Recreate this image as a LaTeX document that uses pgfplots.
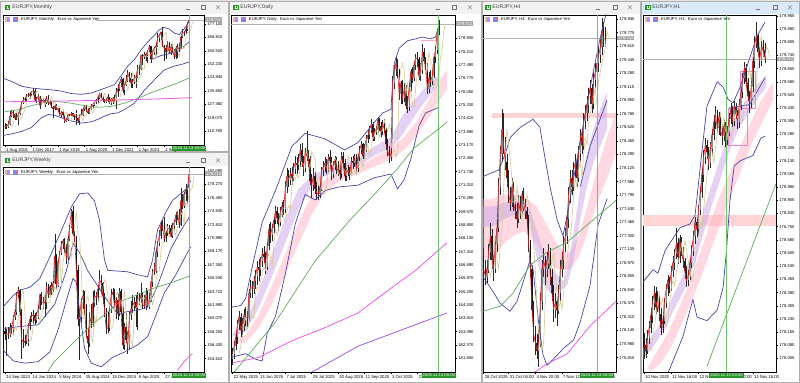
\documentclass[border=0pt]{standalone}
\usepackage{fontspec}
\setmainfont{Liberation Sans}
\usepackage{pgfplots}
\usepackage{pgfplotstable}
\pgfplotsset{compat=1.18}
\definecolor{bb}{RGB}{70,70,165}
\definecolor{ma1}{RGB}{225,30,30}
\definecolor{ma2}{RGB}{214,200,150}
\definecolor{gma}{RGB}{90,175,90}
\definecolor{mag}{RGB}{235,90,235}
\definecolor{pur}{RGB}{165,90,225}
\definecolor{lav}{RGB}{205,165,235}
\definecolor{pnk}{RGB}{255,170,190}
\definecolor{zone}{RGB}{255,212,212}
\definecolor{vline}{RGB}{110,195,110}
\definecolor{gbox}{RGB}{40,150,40}
\definecolor{bull}{RGB}{140,140,140}
\definecolor{bear}{RGB}{20,20,20}
\definecolor{tbar}{RGB}{242,242,242}
\definecolor{tbact}{RGB}{218,234,250}
\definecolor{wframe}{RGB}{175,175,175}
\definecolor{bg}{RGB}{228,228,228}
\definecolor{pbox}{RGB}{240,130,200}
\newcommand{\fs}{\fontsize{2.1}{2.5}\selectfont}
\newcommand{\ft}{\fontsize{2.6}{3}\selectfont}
\pgfplotsset{mt/.style={scale only axis, anchor=north west, clip mode=individual,
  axis line style={black, line width=0.3pt},
  xtick pos=left, ytick pos=right, yticklabel pos=right,
  tick align=outside, major tick length=1.1pt,
  tick style={black, line width=0.22pt},
  ticklabel style={font=\fs, inner sep=0.4pt},
  yticklabel style={anchor=west},
  xticklabel style={anchor=north west},
  scaled ticks=false}}
\newcommand{\candles}[1]{%
 \addplot[draw=none, forget plot, error bars/.cd, y dir=both, y explicit, error mark=none,
   error bar style={draw=black!85, line width=0.22pt, solid}]
   table[x=i, y expr={(\thisrow{h}+\thisrow{l})/2}, y error expr={(\thisrow{h}-\thisrow{l})/2}] {#1};
 \addplot[draw=none, forget plot, restrict expr to domain={\thisrow{c}-\thisrow{o}}{0:1000},
   error bars/.cd, y dir=both, y explicit, error mark=none,
   error bar style={draw=bull, line width=0.6pt, solid}]
   table[x=i, y expr={(\thisrow{o}+\thisrow{c})/2}, y error expr={(\thisrow{c}-\thisrow{o})/2}] {#1};
 \addplot[draw=none, forget plot, restrict expr to domain={\thisrow{o}-\thisrow{c}}{0.00001:1000},
   error bars/.cd, y dir=both, y explicit, error mark=none,
   error bar style={draw=bear, line width=0.6pt, solid}]
   table[x=i, y expr={(\thisrow{o}+\thisrow{c})/2}, y error expr={(\thisrow{o}-\thisrow{c})/2}] {#1};
}
\newcommand{\hdr}[3]{%
 \fill[red!35] (#1,#2+1.1pt) rectangle (#1+1.2pt,#2-1.1pt);
 \fill[blue!40] (#1+1.2pt,#2+1.1pt) rectangle (#1+2.4pt,#2-1.1pt);
 \fill[blue!50] (#1+4.2pt,#2+1.1pt) rectangle (#1+6.6pt,#2-1.1pt);
 \fill[red!60] (#1+4.8pt,#2+0.5pt) rectangle (#1+6pt,#2-0.5pt);
 \node[anchor=west, inner sep=0pt, font=\fs] at (#1+7.8pt,#2) {#3};}
\newcommand{\ttl}[4]{% iconx y textx text
 \draw[gbox, line width=0.3pt] (#1,#2+1.2pt) rectangle (#1+2.4pt,#2-1.2pt);
 \draw[gbox, line width=0.3pt] (#1+0.8pt,#2+0.6pt) -- (#1+0.8pt,#2-0.6pt) (#1+1.6pt,#2+0.8pt) -- (#1+1.6pt,#2-0.4pt);
 \node[anchor=west, inner sep=0pt, font=\ft, text=black!75] at (#3,#2) {#4};}
\newcommand{\btn}[4]{%
 \draw[black!55, line width=0.25pt] (#1-1pt,#4-1pt) -- (#1+1pt,#4-1pt);
 \draw[black!55, line width=0.25pt] (#2-1pt,#4+1pt) rectangle (#2+1pt,#4-1pt);
 \draw[black!55, line width=0.25pt] (#3-1pt,#4+1pt) -- (#3+1pt,#4-1pt) (#3-1pt,#4-1pt) -- (#3+1pt,#4+1pt);}

\pgfplotstableread{
i o h l c
0 113.2 115.6 111.8 114.0
1 114.0 115.3 112.0 113.5
2 113.5 117.0 112.9 115.2
3 115.2 123.0 114.8 120.0
4 120.0 124.1 119.5 123.0
5 123.0 124.1 118.9 121.5
6 121.5 122.0 117.8 119.0
7 119.0 122.0 117.9 118.6
8 118.6 121.9 114.8 121.4
9 121.4 125.8 120.9 124.1
10 124.1 128.9 124.0 128.3
11 128.3 131.7 127.6 130.0
12 130.0 131.8 128.6 130.8
13 130.8 133.5 129.5 132.7
14 132.7 134.4 131.9 132.5
15 132.5 134.5 130.6 133.9
16 133.9 135.6 132.6 135.3
17 135.3 137.5 133.1 135.6
18 135.6 137.4 129.6 130.0
19 130.0 131.7 128.1 130.8
20 130.8 133.5 130.2 132.0
21 132.0 132.2 124.6 126.7
22 126.7 130.4 126.6 129.2
23 129.2 131.0 128.5 130.2
24 130.2 130.6 125.8 128.8
25 128.8 132.2 127.8 131.9
26 131.9 133.1 126.6 127.8
27 127.8 129.9 127.5 128.4
28 128.4 129.2 125.2 125.8
29 125.8 126.4 118.7 124.6
30 124.6 127.5 124.1 126.3
31 126.3 127.5 123.7 124.3
32 124.3 125.2 122.7 124.6
33 124.6 125.1 120.1 120.4
34 120.4 123.2 119.1 122.6
35 122.6 122.9 120.0 120.9
36 120.9 121.0 115.9 116.8
37 116.8 118.6 116.3 117.8
38 117.8 121.5 117.1 121.0
39 121.0 121.4 119.9 120.6
40 120.6 122.6 120.1 121.8
41 121.8 122.1 119.4 120.1
42 120.1 121.0 117.4 120.9
43 120.9 124.1 114.4 118.7
44 118.7 119.0 116.1 117.1
45 117.1 121.1 114.4 120.8
46 120.8 124.4 120.2 120.9
47 120.9 125.0 120.1 124.5
48 124.5 127.1 123.0 126.3
49 126.3 126.7 122.4 123.8
50 123.8 125.1 121.6 122.0
51 122.0 125.1 121.1 124.3
52 124.3 127.5 123.6 126.2
53 126.2 127.1 125.1 127.1
54 127.1 128.9 126.1 128.8
55 128.8 130.5 127.6 129.8
56 129.8 132.5 127.9 131.4
57 131.4 134.3 130.6 134.1
58 134.1 134.3 131.0 131.5
59 131.5 132.2 128.6 130.2
60 130.2 130.9 127.9 129.4
61 129.4 131.0 128.3 129.6
62 129.6 133.5 128.5 131.9
63 131.9 132.0 127.4 127.9
64 127.9 131.0 127.2 130.9
65 130.9 131.6 127.4 129.2
66 129.2 133.2 128.5 129.5
67 129.5 137.5 124.4 135.2
68 135.2 140.0 131.9 136.8
69 136.8 141.0 135.6 140.6
70 140.6 144.3 138.1 142.9
71 142.9 143.6 134.6 136.2
72 136.2 139.7 133.4 139.3
73 139.3 145.6 138.5 141.8
74 141.8 148.4 141.0 147.0
75 147.0 147.3 140.9 143.6
76 143.6 146.7 137.4 140.4
77 140.4 142.9 137.4 141.2
78 141.2 145.6 139.8 144.0
79 144.0 145.7 137.4 144.5
80 144.5 151.6 143.7 150.1
81 150.1 151.6 145.6 149.5
82 149.5 158.0 148.3 157.8
83 157.8 158.7 151.4 156.7
84 156.7 159.8 155.2 158.2
85 158.2 159.2 154.0 158.1
86 158.1 160.8 153.2 160.1
87 160.1 164.3 159.7 163.2
88 163.2 163.6 153.2 155.7
89 155.7 161.0 155.1 159.7
90 159.7 163.7 158.0 162.2
91 162.2 165.3 158.1 163.4
92 163.4 171.6 162.8 168.5
93 168.5 170.9 166.2 170.3
94 170.3 172.4 167.4 172.2
95 172.2 175.4 163.0 163.9
96 163.9 164.2 154.4 162.2
97 162.2 163.8 155.2 159.7
98 159.7 166.7 159.6 165.3
99 165.3 166.2 158.3 158.8
100 158.8 164.9 158.0 162.8
101 162.8 164.9 159.6 161.4
102 161.4 161.7 155.6 156.7
103 156.7 163.7 155.6 162.0
104 162.0 164.9 156.3 162.7
105 162.7 165.2 159.9 161.6
106 161.6 169.7 161.4 169.1
107 169.1 173.9 168.5 171.9
108 171.9 173.0 169.8 171.9
109 171.9 175.0 171.2 173.7
110 173.7 178.1 172.6 177.6
111 177.6 179.9 176.1 179.7
}\tmon

\pgfplotstableread{
i o h l c
0 158.4 158.9 157.2 157.9
1 157.9 158.7 155.0 158.0
2 158.0 158.9 157.3 157.9
3 157.9 159.5 157.6 158.8
4 158.8 159.2 157.9 158.5
5 158.5 160.6 157.8 160.2
6 160.2 161.4 159.8 160.9
7 160.9 163.7 160.6 163.3
8 163.3 164.3 162.9 163.9
9 163.9 164.0 160.4 160.9
10 160.9 161.3 154.5 157.3
11 157.3 158.6 156.0 156.8
12 156.8 157.8 156.3 157.0
13 157.0 157.9 156.6 157.3
14 157.3 159.4 156.3 159.0
15 159.0 160.4 158.5 160.0
16 160.0 161.0 159.6 160.3
17 160.3 161.2 159.1 160.6
18 160.6 160.8 159.2 159.8
19 159.8 161.0 159.5 160.6
20 160.6 161.9 160.0 161.4
21 161.4 163.4 161.2 163.3
22 163.3 163.6 161.9 162.4
23 162.4 163.0 161.4 162.2
24 162.2 162.8 160.2 162.2
25 162.2 165.0 161.3 164.3
26 164.3 164.8 162.9 163.3
27 163.3 164.6 163.0 164.4
28 164.4 165.0 163.3 163.9
29 163.9 165.2 163.6 164.9
30 164.9 171.6 164.7 168.6
31 168.6 168.8 164.0 164.5
32 164.5 168.0 164.4 167.8
33 167.8 169.2 167.5 168.9
34 168.9 170.6 168.7 170.2
35 170.2 170.9 169.5 170.6
36 170.6 171.0 168.9 169.8
37 169.8 170.2 167.5 168.3
38 168.3 171.2 168.0 170.9
39 170.9 172.8 170.6 172.5
40 172.5 174.9 172.3 174.7
41 174.7 175.4 171.3 171.6
42 171.6 172.0 170.5 171.1
43 171.1 171.2 166.3 166.7
44 166.7 167.3 159.0 160.0
45 160.0 161.3 154.4 160.3
46 160.3 162.8 159.4 162.6
47 162.6 163.9 161.4 163.1
48 163.1 163.8 160.5 161.7
49 161.7 162.0 157.5 157.7
50 157.7 158.6 155.2 156.8
51 156.8 160.9 156.2 160.3
52 160.3 162.0 158.8 159.5
53 159.5 163.8 158.9 162.1
54 162.1 163.9 161.6 163.1
55 163.1 163.6 161.9 163.0
56 163.0 164.6 162.3 164.1
57 164.1 166.7 163.9 165.3
58 165.3 166.0 163.4 164.9
59 164.9 165.0 162.0 163.1
60 163.1 163.5 160.3 161.3
61 161.3 161.5 158.0 158.7
62 158.7 160.9 158.1 158.8
63 158.8 161.5 158.3 161.2
64 161.2 164.0 160.8 163.3
65 163.3 164.2 162.9 163.6
66 163.6 164.0 161.5 161.8
67 161.8 163.0 160.0 162.6
68 162.6 163.4 159.9 160.7
69 160.7 164.2 160.4 163.8
70 163.8 164.0 160.5 161.0
71 161.0 161.7 155.9 156.4
72 156.4 159.5 155.8 158.9
73 158.9 160.8 156.8 157.2
74 157.2 158.3 155.3 156.2
75 156.2 160.9 155.9 160.5
76 160.5 162.4 159.8 161.4
77 161.4 163.2 160.8 161.8
78 161.8 163.0 161.2 162.3
79 162.3 163.3 158.9 161.5
80 161.5 163.7 158.5 162.9
81 162.9 163.5 161.9 162.7
82 162.7 164.9 162.1 163.3
83 163.3 163.6 161.4 162.0
84 162.0 163.2 161.3 161.7
85 161.7 164.2 161.2 163.3
86 163.3 163.9 161.6 161.9
87 161.9 163.5 161.4 162.7
88 162.7 165.2 162.3 165.0
89 165.0 166.8 164.4 166.5
90 166.5 167.6 165.9 166.5
91 166.5 169.4 166.3 169.1
92 169.1 170.6 168.4 170.3
93 170.3 172.1 169.9 171.3
94 171.3 173.1 170.8 172.8
95 172.8 173.4 171.9 172.5
96 172.5 173.9 170.5 171.0
97 171.0 172.0 170.4 171.7
98 171.7 172.9 171.2 172.2
99 172.2 172.7 171.5 172.3
100 172.3 172.8 171.1 171.3
101 171.3 173.0 171.0 172.6
102 172.6 173.4 172.0 173.1
103 173.1 174.5 172.7 174.1
104 174.1 174.7 173.5 174.6
105 174.6 174.9 172.3 172.8
106 172.8 177.8 172.6 176.0
107 176.0 177.0 174.9 175.4
108 175.4 177.3 175.1 177.0
109 177.0 178.3 176.0 177.6
110 177.6 177.9 175.8 177.8
111 177.8 180.1 177.4 179.7
}\twk

\pgfplotstableread{
i o h l c
0 161.6 162.2 161.3 161.9
1 161.9 162.6 161.6 162.3
2 162.3 163.0 162.1 162.8
3 162.8 163.7 162.4 163.5
4 163.5 164.2 163.2 163.9
5 163.9 164.1 162.8 163.2
6 163.2 163.8 162.9 163.5
7 163.5 164.3 163.1 164.0
8 164.0 164.4 163.4 163.9
9 163.9 164.2 163.3 163.8
10 163.8 165.4 163.6 165.2
11 165.2 165.9 164.9 165.5
12 165.5 165.8 164.9 165.4
13 165.4 166.1 165.1 165.8
14 165.8 166.4 165.4 166.1
15 166.1 166.9 165.6 166.6
16 166.6 167.0 165.8 166.4
17 166.4 167.1 166.1 166.9
18 166.9 167.6 166.6 167.3
19 167.3 167.7 166.8 167.1
20 167.1 167.4 166.2 166.6
21 166.6 167.9 166.4 167.7
22 167.7 168.9 167.5 168.6
23 168.6 169.0 167.9 168.3
24 168.3 168.9 168.0 168.7
25 168.7 169.3 168.4 169.1
26 169.1 169.9 168.9 169.6
27 169.6 169.8 168.9 169.2
28 169.2 169.5 168.5 169.0
29 169.0 169.8 168.8 169.6
30 169.6 170.1 169.3 169.9
31 169.9 170.2 169.4 169.7
32 169.7 171.2 169.5 170.9
33 170.9 171.9 170.6 171.5
34 171.5 171.8 170.9 171.3
35 171.3 171.9 171.0 171.6
36 171.6 172.0 171.0 171.4
37 171.4 172.2 171.2 171.9
38 171.9 172.6 171.6 172.2
39 172.2 172.5 171.6 172.1
40 172.1 172.7 171.8 172.3
41 172.3 173.2 172.0 172.9
42 172.9 173.3 172.0 172.3
43 172.3 172.6 171.5 171.9
44 171.9 173.0 171.7 172.8
45 172.8 173.9 172.3 172.6
46 172.6 172.9 172.0 172.4
47 172.4 172.6 171.0 171.2
48 171.2 171.6 170.3 171.0
49 171.0 171.9 170.7 171.5
50 171.5 171.7 170.5 170.8
51 170.8 171.2 170.2 170.6
52 170.6 171.0 170.2 170.5
53 170.5 171.1 170.3 170.9
54 170.9 172.0 170.7 171.8
55 171.8 172.3 171.5 172.0
56 172.0 172.5 171.7 172.2
57 172.2 172.4 171.6 171.9
58 171.9 172.7 171.7 172.5
59 172.5 172.9 172.0 172.3
60 172.3 172.5 171.3 171.6
61 171.6 172.3 171.4 172.1
62 172.1 172.6 171.8 172.3
63 172.3 172.5 171.6 171.9
64 171.9 172.3 171.5 171.8
65 171.8 172.0 171.3 171.6
66 171.6 172.8 171.4 172.6
67 172.6 172.8 171.9 172.2
68 172.2 172.4 171.2 171.5
69 171.5 171.9 171.2 171.7
70 171.7 172.1 171.5 171.8
71 171.8 172.0 171.3 171.6
72 171.6 172.5 171.5 172.3
73 172.3 172.6 171.9 172.2
74 172.2 172.7 172.0 172.5
75 172.5 172.7 171.6 171.9
76 171.9 172.7 171.7 172.5
77 172.5 173.1 172.3 172.9
78 172.9 173.4 172.7 173.2
79 173.2 173.3 172.4 172.6
80 172.6 173.2 172.4 173.0
81 173.0 173.7 172.8 173.5
82 173.5 174.0 173.3 173.7
83 173.7 174.2 173.5 174.0
84 174.0 174.6 173.8 174.3
85 174.3 174.4 173.4 173.6
86 173.6 174.1 173.4 173.9
87 173.9 174.2 173.7 174.0
88 174.0 174.7 173.8 174.5
89 174.5 174.6 173.9 174.2
90 174.2 174.4 173.6 173.9
91 173.9 174.5 173.7 174.3
92 174.3 174.6 173.8 174.0
93 174.0 174.1 172.9 173.2
94 173.2 173.5 172.6 172.9
95 172.9 173.1 172.2 172.5
96 172.5 173.0 172.3 172.7
97 173.5 176.9 173.5 176.5
98 176.5 177.5 176.2 177.3
99 177.3 177.9 176.9 177.6
100 177.6 177.8 176.8 177.2
101 177.2 177.3 175.6 175.9
102 175.9 176.6 175.4 176.5
103 176.5 176.7 175.4 175.7
104 175.7 176.5 175.5 176.2
105 176.2 176.4 175.1 175.3
106 175.3 175.8 174.9 175.2
107 175.2 176.5 175.0 176.3
108 176.3 177.3 176.1 177.1
109 177.1 177.4 176.5 176.8
110 176.8 177.7 176.6 177.5
111 177.5 178.1 177.2 177.9
112 177.9 178.2 177.4 177.8
113 177.8 177.9 176.7 176.9
114 176.9 177.6 176.6 177.2
115 177.2 178.6 177.0 178.2
116 178.2 178.4 177.5 177.7
117 177.7 177.9 177.2 177.5
118 177.5 177.6 175.9 176.2
119 176.2 177.1 176.0 176.8
120 176.8 177.2 176.3 176.6
121 176.6 177.2 176.4 176.9
122 176.9 178.0 176.8 177.9
123 177.9 178.5 177.6 178.3
124 178.3 179.4 178.1 179.3
125 179.3 179.9 179.1 179.7
}\tday

\pgfplotstableread{
i o h l c
4 177.05 177.15 176.80 176.90
5 176.90 177.00 176.70 176.80
6 176.80 177.00 176.72 176.90
7 176.90 177.20 176.85 177.10
8 177.10 177.45 177.00 177.30
9 177.30 177.38 176.90 177.00
10 177.00 177.08 176.75 176.90
11 176.90 177.30 176.85 177.20
12 177.20 177.50 177.10 177.40
13 177.40 178.00 177.35 177.90
14 177.90 178.40 177.80 178.30
15 178.30 178.85 178.20 178.60
16 178.60 178.80 178.30 178.40
17 178.40 178.50 178.10 178.20
18 178.20 178.30 177.90 178.00
19 178.00 178.10 177.70 177.80
20 177.80 177.90 177.60 177.70
21 177.70 178.00 177.65 177.90
22 177.90 177.95 177.60 177.70
23 177.70 177.75 177.50 177.60
24 177.60 177.70 177.40 177.50
25 177.50 177.80 177.45 177.70
26 177.70 177.78 177.50 177.60
27 177.60 177.85 177.55 177.80
28 177.80 177.88 177.60 177.70
29 177.70 177.75 177.50 177.60
30 177.60 177.65 177.40 177.50
31 177.50 177.55 177.10 177.20
32 177.20 177.25 176.80 176.90
33 176.90 176.95 176.30 176.40
34 176.40 176.50 176.00 176.10
35 176.10 176.20 175.85 176.00
36 176.00 176.10 175.80 175.90
37 175.90 176.15 175.70 176.00
38 176.00 176.60 175.95 176.50
39 176.50 177.00 176.40 176.90
40 176.90 177.15 176.80 177.00
41 177.00 177.05 176.70 176.90
42 176.90 177.10 176.80 177.00
43 177.00 177.20 176.90 177.10
44 177.10 177.15 176.70 176.80
45 176.80 176.90 176.50 176.60
46 176.60 176.70 176.25 176.40
47 176.40 176.60 176.30 176.50
48 176.50 176.55 176.20 176.40
49 176.40 176.70 176.35 176.60
50 176.60 177.00 176.50 176.90
51 176.90 177.10 176.80 177.00
52 177.00 177.30 176.90 177.20
53 177.20 177.40 177.10 177.30
54 177.30 177.60 177.20 177.50
55 177.50 177.90 177.40 177.80
56 177.80 178.10 177.70 178.00
57 178.00 178.10 177.80 177.90
58 177.90 178.20 177.85 178.10
59 178.10 178.30 178.00 178.20
60 178.20 178.25 177.90 178.00
61 178.00 178.40 177.95 178.30
62 178.30 178.60 178.20 178.50
63 178.50 178.60 178.30 178.40
64 178.40 178.80 178.35 178.70
65 178.70 178.90 178.60 178.80
66 178.80 179.00 178.70 178.90
67 178.90 179.10 178.80 179.00
68 179.00 179.20 178.90 179.10
69 179.10 179.15 178.80 178.90
70 178.90 179.30 178.85 179.20
71 179.20 179.40 179.10 179.30
72 179.30 179.50 179.20 179.40
73 179.40 179.60 179.30 179.50
74 179.50 179.70 179.40 179.60
75 179.60 179.95 179.50 179.80
76 179.80 179.90 179.60 179.70
77 179.70 179.85 179.60 179.70
}\tfour

\pgfplotstableread{
i o h l c
0 178.10 178.15 178.00 178.08
1 178.08 178.12 178.01 178.05
2 178.05 178.17 178.03 178.12
3 178.12 178.22 178.09 178.18
4 178.18 178.29 178.15 178.25
5 178.25 178.36 178.21 178.32
6 178.32 178.42 178.28 178.38
7 178.38 178.41 178.26 178.30
8 178.30 178.39 178.27 178.35
9 178.35 178.37 178.22 178.26
10 178.26 178.29 178.14 178.18
11 178.18 178.25 178.15 178.22
12 178.22 178.35 178.20 178.32
13 178.32 178.43 178.29 178.40
14 178.40 178.48 178.36 178.45
15 178.45 178.47 178.38 178.42
16 178.42 178.53 178.39 178.50
17 178.50 178.59 178.47 178.55
18 178.55 178.63 178.51 178.60
19 178.60 178.75 178.57 178.66
20 178.66 178.69 178.54 178.58
21 178.58 178.71 178.55 178.68
22 178.68 178.70 178.59 178.62
23 178.62 178.64 178.52 178.56
24 178.56 178.58 178.46 178.50
25 178.50 178.53 178.41 178.45
26 178.45 178.51 178.42 178.48
27 178.48 178.58 178.45 178.55
28 178.55 178.65 178.52 178.62
29 178.62 178.73 178.59 178.70
30 178.70 178.81 178.66 178.78
31 178.78 178.80 178.70 178.74
32 178.74 178.88 178.71 178.85
33 178.85 178.98 178.82 178.95
34 178.95 179.09 178.92 179.05
35 179.05 179.19 179.01 179.15
36 179.15 179.26 179.11 179.22
37 179.22 179.25 179.14 179.18
38 179.18 179.21 179.08 179.12
39 179.12 179.24 179.09 179.20
40 179.20 179.31 179.16 179.28
41 179.28 179.39 179.25 179.35
42 179.35 179.44 179.31 179.40
43 179.40 179.42 179.29 179.32
44 179.32 179.41 179.28 179.38
45 179.38 179.40 179.27 179.30
46 179.30 179.33 179.22 179.27
47 179.27 179.36 179.24 179.33
48 179.33 179.35 179.21 179.25
49 179.25 179.33 179.22 179.30
50 179.30 179.40 179.27 179.37
51 179.37 179.46 179.34 179.42
52 179.42 179.44 179.32 179.36
53 179.36 179.47 179.33 179.44
54 179.44 179.46 179.37 179.40
55 179.40 179.42 179.31 179.35
56 179.35 179.48 179.32 179.45
57 179.45 179.55 179.42 179.52
58 179.52 179.63 179.49 179.60
59 179.60 179.69 179.57 179.66
60 179.66 179.68 179.55 179.58
61 179.58 179.60 179.47 179.50
62 179.50 179.53 179.40 179.46
63 179.46 179.58 179.43 179.55
64 179.55 179.72 179.52 179.70
65 179.70 179.84 179.66 179.80
66 179.80 179.92 179.77 179.84
67 179.84 179.86 179.72 179.75
68 179.75 179.78 179.66 179.70
69 179.70 179.81 179.67 179.78
70 179.78 179.82 179.72 179.76
71 179.76 179.80 179.69 179.72
}\tone

\begin{document}
\begin{tikzpicture}
\useasboundingbox (0,0) rectangle (400pt,-191.5pt);
\fill[bg] (0,0) rectangle (400pt,-191.5pt);
% windows
\fill[white] (0,-0.5pt) rectangle (114pt,-75.5pt);
\fill[tbar] (0,-0.5pt) rectangle (114pt,-7pt);
\draw[wframe, line width=0.3pt] (0,-0.5pt) rectangle (114pt,-75.5pt);
\fill[white] (0,-76pt) rectangle (114pt,-191pt);
\fill[tbar] (0,-76pt) rectangle (114pt,-83pt);
\draw[wframe, line width=0.3pt] (0,-76pt) rectangle (114pt,-191pt);
\fill[white] (114.5pt,-0.5pt) rectangle (240.5pt,-191pt);
\fill[tbar] (114.5pt,-0.5pt) rectangle (240.5pt,-7pt);
\draw[wframe, line width=0.3pt] (114.5pt,-0.5pt) rectangle (240.5pt,-191pt);
\fill[white] (241pt,-0.5pt) rectangle (320pt,-191pt);
\fill[tbar] (241pt,-0.5pt) rectangle (320pt,-7pt);
\draw[wframe, line width=0.3pt] (241pt,-0.5pt) rectangle (320pt,-191pt);
\fill[white] (320.5pt,-0.5pt) rectangle (400pt,-191pt);
\fill[tbact] (320.5pt,-0.5pt) rectangle (400pt,-7pt);
\draw[wframe, line width=0.3pt] (320.5pt,-0.5pt) rectangle (399.8pt,-191pt);
\ttl{2.5pt}{-3.7pt}{6pt}{EURJPY,Monthly}
\ttl{2.5pt}{-80.2pt}{6pt}{EURJPY,Weekly}
\ttl{116.5pt}{-3.7pt}{120pt}{EURJPY,Daily}
\ttl{242.5pt}{-3.7pt}{246pt}{EURJPY,H4}
\ttl{322.5pt}{-3.7pt}{326pt}{EURJPY,H1}
\btn{94pt}{101.5pt}{109pt}{-3.7pt}
\btn{94pt}{101.5pt}{109pt}{-80.2pt}
\btn{219pt}{227pt}{235pt}{-3.7pt}
\btn{299pt}{307.5pt}{315pt}{-3.7pt}
\btn{379pt}{387.5pt}{395pt}{-3.7pt}

% ================= MONTHLY
\begin{axis}[mt, at={(1.5pt,-7.5pt)}, width=100.5pt, height=65pt,
  xmin=-1.2, xmax=120, ymin=102.1, ymax=182.68,
  xtick={0,16,32,48,64,80,96},
  xticklabels={1 Aug 2016,1 Dec 2017,1 Apr 2019,1 Aug 2020,1 Dec 2021,1 Apr 2023,1 Aug 2024},
  ytick={110.78,119.07,127.36,135.65,143.94,152.23,160.52,168.81,177.1},
  yticklabels={110.780,119.070,127.360,135.650,143.940,152.230,160.520,168.810,177.100}]
\addplot[black!30, line width=0.25pt] coordinates {(-1.2,179.71) (120,179.71)};
\candles{\tmon}
\addplot[bb, line width=0.35pt] coordinates {(-1.2,143.6) (5,141) (10,138.5) (16,137.4) (22,136.8) (28,136.3) (34,135.5) (40,134) (46,133.5) (52,134.3) (58,136.5) (62,138) (66,139.5) (70,145) (74,151) (78,155) (82,161) (86,166) (90,170) (93,173.5) (96,175) (99,174) (102,171.5) (105,170.5) (108,174) (111,178.5)};
\addplot[bb, line width=0.35pt] coordinates {(-1.2,108) (4,109) (10,110.5) (16,113) (22,119) (26,121) (30,120.5) (34,119) (40,117) (46,115.7) (52,116.5) (56,118) (60,120) (64,121.5) (68,122) (72,124) (78,128) (84,136) (90,142.4) (96,148.6) (102,151) (108,152.5) (111,153.6)};
\addplot[bb, line width=0.35pt] coordinates {(88,155) (94,157.5) (100,159) (106,161.5) (111,166)};
\addplot[gma, line width=0.35pt] coordinates {(-1.2,122.5) (8,124) (16,126.5) (24,128.5) (32,129) (40,128) (48,126.5) (56,125.5) (64,126) (72,128) (80,131) (88,134.5) (96,137.5) (104,140.5) (111,143.6)};
\addplot[mag, line width=0.4pt] coordinates {(-1.2,128.9) (30,129.3) (60,129.8) (90,130.6) (113,131.4)};
\addplot[ma2, line width=0.3pt] table[x expr=\thisrow{i}+3, y=c] {\tmon};
\addplot[ma1, line width=0.3pt] table[x=i, y=c] {\tmon};
\addplot[vline, line width=0.35pt] coordinates {(111,102.1) (111,182.68)};
\coordinate (mg) at (axis cs:111,102.1);
\coordinate (mp) at (axis cs:120,179.71);
\end{axis}
\node[fill=gbox, text=white, font=\fs, inner sep=0.45pt, anchor=north] at ([yshift=-0.3pt]mg) {2025.11.13 00:00};
\node[fill=black!35, text=white, font=\fs, inner sep=0.45pt, anchor=west] at ([xshift=0.4pt]mp) {179.712};
\fill[white] (2pt,-8.5pt) rectangle (48pt,-11pt);
\hdr{2.5pt}{-9.75pt}{EURJPY, Monthly:\ \ Euro vs Japanese Yen}

% ================= WEEKLY
\begin{axis}[mt, at={(1.5pt,-83.5pt)}, width=100.5pt, height=102.5pt,
  xmin=-1.2, xmax=120, ymin=152.8, ymax=180.63,
  xtick={0,16,32,48,64,80,96},
  xticklabels={24 Sep 2023,14 Jan 2024,5 May 2024,25 Aug 2024,15 Dec 2024,6 Apr 2025,27 Jul 2025},
  ytick={154.61,156.43,158.25,160.07,161.89,163.71,165.53,167.35,169.17,170.99,172.81,174.63,176.45,178.27,180.09},
  yticklabels={154.610,156.430,158.250,160.070,161.890,163.710,165.530,167.350,169.170,170.990,172.810,174.630,176.450,178.270,180.090}]
\addplot[black!30, line width=0.25pt] coordinates {(-1.2,179.71) (120,179.71)};
\candles{\twk}
\addplot[bb, line width=0.35pt] coordinates {(-1.2,161.6) (5,163.2) (9,163.9) (15,164.3) (21,165.5) (27,168.4) (33,171.5) (40,175.2) (45,177) (50,177.1) (54,176) (57,173.4) (60,168) (62,166.6) (68,166.5) (74,166.4) (80,166) (86,165.7) (89,168) (92,172.1) (97,174.5) (101,176.1) (106,177) (110,177.8) (112,178.8)};
\addplot[bb, line width=0.35pt] coordinates {(-1.2,155.8) (5,154.3) (12,154.0) (20,154.2) (27,155.5) (32,158.5) (37,162.5) (41,165.5) (43,165) (45,161) (48,156) (52,154.0) (58,153.5) (65,154.8) (72,155.5) (80,156.5) (86,157.6) (91,160.5) (96,163.5) (103,166) (110,169) (112,169.8)};
\addplot[bb, line width=0.35pt] coordinates {(-1.2,158.7) (10,159) (20,159.2) (30,162) (37,166.5) (41,170.3) (45,169) (50,166.5) (55,164.8) (60,163) (68,160.7) (74,161) (80,161.2) (86,161.6) (92,164.5) (100,169.5) (106,172) (111,173.8)};
\addplot[gma, line width=0.35pt] coordinates {(25,152.5) (29,154.0) (40,156.5) (50,158.7) (60,160.6) (69,162.3) (80,163.3) (90,164.2) (100,164.9) (111,165.8)};
\addplot[mag, line width=0.4pt] coordinates {(104,153.0) (108,154.2) (113,155.3)};
\addplot[ma2, line width=0.3pt] table[x expr=\thisrow{i}+3, y=c] {\twk};
\addplot[ma1, line width=0.3pt] table[x=i, y=c] {\twk};
\addplot[vline, line width=0.35pt] coordinates {(111,152.8) (111,180.63)};
\coordinate (wg) at (axis cs:111,152.8);
\coordinate (wp) at (axis cs:120,179.71);
\end{axis}
\node[fill=gbox, text=white, font=\fs, inner sep=0.45pt, anchor=north] at ([yshift=-0.3pt]wg) {2025.11.13 00:00};
\node[fill=black!35, text=white, font=\fs, inner sep=0.45pt, anchor=west] at ([xshift=0.4pt]wp) {179.712};
\hdr{2.5pt}{-86.25pt}{EURJPY, Weekly:\ \ Euro vs Japanese Yen}

% ================= DAILY
\begin{axis}[mt, at={(115.5pt,-7.5pt)}, width=112pt, height=178.5pt,
  xmin=-0.9, xmax=134.8, ymin=160.91, ymax=180.19,
  xtick={0,16,32,48,64,80,96,112},
  xticklabels={22 May 2025,13 Jun 2025,7 Jul 2025,29 Jul 2025,20 Aug 2025,11 Sep 2025,3 Oct 2025,27 Oct 2025},
  ytick={161.65,162.37,163.09,163.81,164.53,165.25,165.97,166.69,167.41,168.13,168.85,169.57,170.29,171.01,171.73,172.45,173.17,173.89,174.61,175.33,176.05,176.77,177.49,178.21,178.93},
  yticklabels={161.650,162.370,163.090,163.810,164.530,165.250,165.970,166.690,167.410,168.130,168.850,169.570,170.290,171.010,171.730,172.450,173.170,173.890,174.610,175.330,176.050,176.770,177.490,178.210,178.930}]
\addplot[black!30, line width=0.25pt] coordinates {(-0.9,179.71) (134.8,179.71)};
\addplot[draw=none, fill=pnk, fill opacity=0.45] coordinates {(0,162.7) (8,162.9) (16,164.0) (24,165.6) (32,167.3) (40,169.0) (48,170.5) (56,171.3) (66,171.8) (76,172.0) (86,172.5) (96,173.0) (104,173.6) (112,174.5) (120,175.8) (127,176.9) (130,177.2) (130,176.2) (127,175.8) (120,174.8) (112,173.7) (104,172.9) (96,172.4) (86,172.0) (76,171.6) (66,171.3) (56,170.6) (48,169.4) (40,167.8) (32,166.2) (24,164.6) (16,163.3) (8,162.5) (0,162.4)} -- cycle;
\addplot[draw=none, fill=lav, fill opacity=0.5] coordinates {(0,163.0) (8,163.6) (16,165.3) (24,167.3) (32,169.2) (40,170.8) (48,171.5) (56,171.9) (66,172.1) (76,172.4) (86,173.1) (96,173.6) (102,174.6) (108,175.4) (114,176.0) (120,176.6) (125,176.9) (125,176.4) (120,175.9) (114,175.2) (108,174.4) (102,173.6) (96,173.0) (86,172.6) (76,172.0) (66,171.8) (56,171.5) (48,170.9) (40,169.7) (32,167.9) (24,166.1) (16,164.4) (8,163.1) (0,162.8)} -- cycle;
\addplot[pnk, line width=0.3pt] coordinates {(114,178.8) (124,178.8) (124,178.4)};
\candles{\tday}
\addplot[bb, line width=0.35pt] coordinates {(-0.9,164.4) (5,164.5) (8,164.9) (12,166.6) (18,169.0) (26,170.7) (36,173.1) (44,173.8) (56,173.5) (68,172.9) (76,173.3) (86,174.4) (91,174.9) (96,175.1) (97,176.5) (98,177.6) (101,178.4) (106,178.8) (111,178.9) (115,179.0) (120,178.9) (123,179.0) (125,179.6)};
\addplot[bb, line width=0.35pt] coordinates {(-0.9,161.7) (8,161.9) (14,161.6) (18,161.5) (21,163.0) (26,163.9) (32,166.2) (38,168.9) (44,170.5) (50,170.2) (56,170.7) (64,170.9) (76,171.0) (86,171.4) (96,171.6) (100,170.8) (104,171.3) (108,172.4) (113,174.2) (117,174.9) (125,175.2)};
\addplot[gma, line width=0.35pt] coordinates {(1,160.9) (26,163.6) (50,166.9) (70,169.0) (88,170.7) (100,171.9) (110,173.0) (130,174.4)};
\addplot[mag, line width=0.4pt] coordinates {(0,161.4) (16,161.7) (36,162.6) (56,163.3) (76,164.1) (97,165.5) (111,166.4) (130,167.9)};
\addplot[pur, line width=0.4pt] coordinates {(43,160.7) (48,160.9) (76,162.3) (130,164.1)};
\addplot[ma2, line width=0.3pt] table[x expr=\thisrow{i}+4, y=c] {\tday};
\addplot[ma1, line width=0.3pt] table[x=i, y=c] {\tday};
\addplot[vline, line width=0.35pt] coordinates {(125,160.91) (125,180.19)};
\coordinate (dg) at (axis cs:125,160.91);
\coordinate (dp) at (axis cs:134.8,179.71);
\end{axis}
\node[fill=gbox, text=white, font=\fs, inner sep=0.45pt, anchor=north] at ([yshift=-0.3pt]dg) {2025.11.13 00:00};
\node[fill=black!35, text=white, font=\fs, inner sep=0.45pt, anchor=west] at ([xshift=0.4pt]dp) {179.712};
\hdr{116.5pt}{-9.75pt}{EURJPY, Daily:\ \ Euro vs Japanese Yen}

% ================= H4
\begin{axis}[mt, at={(241.5pt,-7.5pt)}, width=66.5pt, height=178.5pt,
  xmin=3.6, xmax=83.4, ymin=175.64, ymax=179.99,
  xtick={4,19,35,51,67},
  xticklabels={28 Oct 2025,31 Oct 04:00,4 Nov 20:00,7 Nov 12:00,12 Nov 04:00},
  ytick={175.815,175.98,176.145,176.31,176.475,176.64,176.805,176.97,177.135,177.3,177.465,177.63,177.795,177.96,178.125,178.29,178.455,178.62,178.785,178.95,179.115,179.28,179.445,179.61,179.775,179.94},
  yticklabels={175.815,175.980,176.145,176.310,176.475,176.640,176.805,176.970,177.135,177.300,177.465,177.630,177.795,177.960,178.125,178.290,178.455,178.620,178.785,178.950,179.115,179.280,179.445,179.610,179.775,179.940}]
\addplot[draw=none, fill=zone] coordinates {(9,178.73) (83.4,178.73) (83.4,178.80) (9,178.80)} -- cycle;
\addplot[black!30, line width=0.25pt] coordinates {(3.6,179.71) (83.4,179.71)};
\addplot[draw=none, fill=pnk, fill opacity=0.45] coordinates {(3.6,177.75) (10,177.75) (16,177.8) (22,177.8) (28,177.78) (32,177.72) (36,177.65) (40,177.5) (44,177.35) (48,177.2) (52,177.1) (56,177.1) (60,177.25) (64,177.5) (68,177.8) (72,178.1) (78,178.5) (83.4,178.8) (83.4,178.3) (78,178.0) (72,177.7) (68,177.45) (64,177.2) (60,177.0) (56,176.9) (52,176.88) (48,176.9) (44,176.95) (40,177.05) (36,177.2) (32,177.3) (28,177.35) (22,177.3) (16,177.2) (10,177.05) (3.6,177.0)} -- cycle;
\addplot[draw=none, fill=lav, fill opacity=0.5] coordinates {(3.6,177.65) (10,177.66) (16,177.7) (22,177.72) (28,177.72) (32,177.6) (36,177.35) (40,177.1) (44,176.95) (48,176.82) (52,176.75) (54,176.9) (58,177.35) (62,177.9) (66,178.3) (70,178.6) (74,178.85) (78,179.05) (78,178.6) (74,178.4) (70,178.2) (66,177.9) (62,177.5) (58,177.0) (54,176.69) (52,176.66) (48,176.62) (44,176.6) (40,176.7) (36,177.0) (32,177.45) (28,177.56) (22,177.55) (16,177.5) (10,177.42) (3.6,177.4)} -- cycle;
\candles{\tfour}
\addplot[bb, line width=0.35pt] coordinates {(3.6,178.02) (8,178.06) (13,178.1) (17,178.3) (20,178.5) (26,178.62) (33.6,178.72) (37.8,178.62) (39.6,178.39) (43.8,177.9) (48,177.5) (51.6,177.3) (54.6,177.6) (60.6,178.3) (67.8,179.1) (73.8,179.7) (78.6,180.1)};
\addplot[bb, line width=0.35pt] coordinates {(3.6,176.8) (9.6,176.62) (13.8,176.48) (19.8,176.38) (24,176.5) (27.6,176.73) (31.8,177.0) (33.6,176.9) (37.2,176.2) (39.6,175.85) (42,175.72) (46,175.8) (52,175.93) (58,176.03) (61.8,176.24) (67.8,176.69) (72.6,177.43) (78,177.75)};
\addplot[bb, line width=0.35pt] coordinates {(62,177.9) (68,178.4) (78,178.95)};
\addplot[gma, line width=0.35pt] coordinates {(3.6,176.38) (13.8,176.44) (21.6,176.6) (31.8,176.94) (42,177.1) (54,177.22) (66,177.43) (83.4,177.73)};
\addplot[mag, line width=0.4pt] coordinates {(32,175.6) (42,175.74) (54,175.86) (67.8,176.2) (83.4,176.5)};
\addplot[ma2, line width=0.3pt] table[x expr=\thisrow{i}+3, y=c] {\tfour};
\addplot[ma1, line width=0.3pt] table[x=i, y=c] {\tfour};
\addplot[vline, line width=0.35pt] coordinates {(72,175.64) (72,179.99)};
\coordinate (fg) at (axis cs:72,175.64);
\coordinate (fp) at (axis cs:83.4,179.71);
\end{axis}
\node[fill=gbox, text=white, font=\fs, inner sep=0.45pt, anchor=north] at ([yshift=-0.3pt]fg) {2025.11.13 00:00};
\node[fill=black!35, text=white, font=\fs, inner sep=0.45pt, anchor=west] at ([xshift=0.4pt]fp) {179.712};
\hdr{242.5pt}{-9.75pt}{EURJPY, H4:\ \ Euro vs Japanese Yen}

% ================= H1
\begin{axis}[mt, at={(321.5pt,-7.5pt)}, width=66.5pt, height=178.5pt,
  xmin=-0.6, xmax=77.6, ymin=177.928, ymax=179.96,
  xtick={0,16,32,48,64},
  xticklabels={10 Nov 2025,11 Nov 16:00,12 Nov 08:00,13 Nov 00:00,13 Nov 16:00},
  ytick={178.005,178.08,178.155,178.23,178.305,178.38,178.455,178.53,178.605,178.68,178.755,178.83,178.905,178.98,179.055,179.13,179.205,179.28,179.355,179.43,179.505,179.58,179.655,179.73,179.805,179.88,179.955},
  yticklabels={178.005,178.080,178.155,178.230,178.305,178.380,178.455,178.530,178.605,178.680,178.755,178.830,178.905,178.980,179.055,179.130,179.205,179.280,179.355,179.430,179.505,179.580,179.655,179.730,179.805,179.880,179.955}]
\addplot[draw=none, fill=zone] coordinates {(-0.6,178.76) (77.6,178.76) (77.6,178.82) (-0.6,178.82)} -- cycle;
\addplot[black!30, line width=0.25pt] coordinates {(-0.6,179.71) (77.6,179.71)};
\addplot[draw=none, fill=pnk, fill opacity=0.45] coordinates {(2,177.95) (8,178.05) (14,178.15) (20,178.28) (26,178.42) (32,178.58) (38,178.75) (44,178.92) (50,179.05) (56,179.2) (62,179.33) (68,179.46) (76,179.58) (76,179.48) (70,179.36) (64,179.24) (58,179.1) (52,178.95) (46,178.8) (40,178.64) (34,178.48) (28,178.33) (22,178.2) (16,178.07) (10,177.98) (4,177.93)} -- cycle;
\addplot[draw=none, fill=lav, fill opacity=0.5] coordinates {(-0.6,178.06) (6,178.15) (12,178.25) (18,178.38) (24,178.5) (30,178.65) (36,178.88) (40,179.0) (44,179.12) (50,179.3) (56,179.42) (62,179.5) (68,179.58) (72,179.62) (72,179.55) (68,179.5) (62,179.41) (56,179.32) (50,179.18) (44,179.0) (40,178.88) (36,178.75) (30,178.55) (24,178.4) (18,178.29) (12,178.17) (6,178.08) (-0.6,178.0)} -- cycle;
\addplot[pbox, line width=0.3pt] coordinates {(49.4,179.22) (60.6,179.22) (60.6,179.43) (49.4,179.43)} -- cycle;
\addplot[pbox, line width=0.3pt] coordinates {(56.5,179.43) (65.3,179.43) (65.3,179.64) (56.5,179.64)} -- cycle;
\candles{\tone}
\addplot[bb, line width=0.35pt] coordinates {(-0.6,178.44) (5.3,178.51) (8.2,178.49) (12.4,178.62) (21.2,178.75) (27,178.77) (30,178.82) (34.7,179.24) (37,179.44) (43,179.58) (46.5,179.55) (49.4,179.48) (52.4,179.46) (56.5,179.55) (60.6,179.67) (66.5,179.84) (71.2,179.92)};
\addplot[bb, line width=0.35pt] coordinates {(13,177.9) (15.3,177.95) (22.9,178.13) (27,178.28) (28.8,178.34) (31.2,178.24) (37,178.22) (43,178.28) (46.5,178.41) (48.5,178.62) (50.5,178.9) (53,179.1) (56.5,179.13) (64,179.16) (68.8,179.26) (71.2,179.27)};
\addplot[bb, line width=0.35pt] coordinates {(50,179.43) (62,179.45) (71,179.6)};
\addplot[gma, line width=0.35pt] coordinates {(37,177.96) (77.6,179.0)};
\addplot[ma2, line width=0.3pt] table[x expr=\thisrow{i}+3, y=c] {\tone};
\addplot[ma1, line width=0.3pt] table[x=i, y=c] {\tone};
\addplot[vline, line width=0.35pt] coordinates {(48.5,177.928) (48.5,179.96)};
\coordinate (og) at (axis cs:48.5,177.928);
\coordinate (op) at (axis cs:77.6,179.71);
\end{axis}
\node[fill=gbox, text=white, font=\fs, inner sep=0.45pt, anchor=north] at ([yshift=-0.3pt]og) {2025.11.13 00:00};
\node[fill=black!35, text=white, font=\fs, inner sep=0.45pt, anchor=west] at ([xshift=0.4pt]op) {179.712};
\hdr{322.5pt}{-9.75pt}{EURJPY, H1:\ \ Euro vs Japanese Yen}
\end{tikzpicture}
\end{document}
